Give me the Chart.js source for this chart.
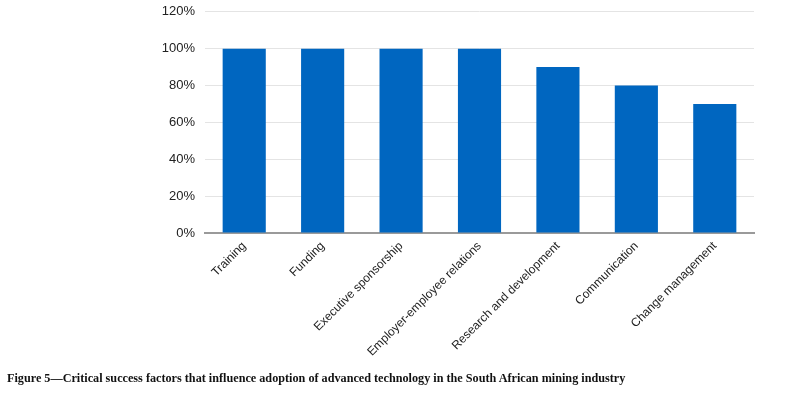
<!DOCTYPE html>
<html>
<head>
<meta charset="utf-8">
<script src="https://cdn.jsdelivr.net/npm/chart.js@4"></script>
<style>
  html, body { margin: 0; padding: 0; background: #fff; }
  #wrap { position: relative; width: 785px; height: 396px; overflow: hidden; }
  #box { position: absolute; left: 0; top: -6px; width: 785px; height: 396px; }
  #caption {
    position: absolute; left: 7px; top: 371px;
    font-family: "Liberation Serif", serif; font-weight: bold;
    font-size: 12.2px; color: #111; white-space: nowrap;
  }
</style>
</head>
<body>
<div id="wrap">
  <div id="box"><canvas id="chart"></canvas></div>
  <div id="caption">Figure 5—Critical success factors that influence adoption of advanced technology in the South African mining industry</div>
</div>
<script>
const categories = [
  "Training",
  "Funding",
  "Executive sponsorship",
  "Employer-employee relations",
  "Research and development",
  "Communication",
  "Change management"
];
const values = [100, 100, 100, 100, 90, 80, 70];
const yTicks = [0, 20, 40, 60, 80, 100, 120];

const ctx = document.getElementById("chart").getContext("2d");

new Chart(ctx, {
  type: "bar",
  data: {
    labels: categories,
    datasets: [{
      data: values,
      backgroundColor: "#0066c0",
      borderWidth: 0,
      categoryPercentage: 1,
      barPercentage: 0.55
    }]
  },
  options: {
    responsive: true,
    maintainAspectRatio: false,
    animation: false,
    layout: { padding: { left: 0, right: 31, top: 0, bottom: 0 } },
    plugins: {
      legend: { display: false },
      tooltip: { enabled: false }
    },
    scales: {
      x: {
        grid: { display: false, drawTicks: false },
        border: { display: true, color: "#9a9a9a", width: 2 },
        ticks: {
          color: "#222",
          font: { family: "Arial, 'Liberation Sans', sans-serif", size: 12 },
          minRotation: 45,
          maxRotation: 45,
          padding: 6,
          autoSkip: false
        },
        afterFit: scale => { scale.height = 157; }
      },
      y: {
        min: 0,
        max: 120,
        afterBuildTicks: scale => {
          scale.ticks = yTicks.map(v => ({ value: v }));
        },
        grid: { color: "#e4e4e4", drawTicks: false },
        border: { display: false },
        ticks: {
          color: "#222",
          font: { family: "Arial, 'Liberation Sans', sans-serif", size: 13 },
          padding: 10,
          callback: value => value + "%"
        },
        afterFit: scale => { scale.width = 205; }
      }
    }
  }
});
</script>
</body>
</html>
